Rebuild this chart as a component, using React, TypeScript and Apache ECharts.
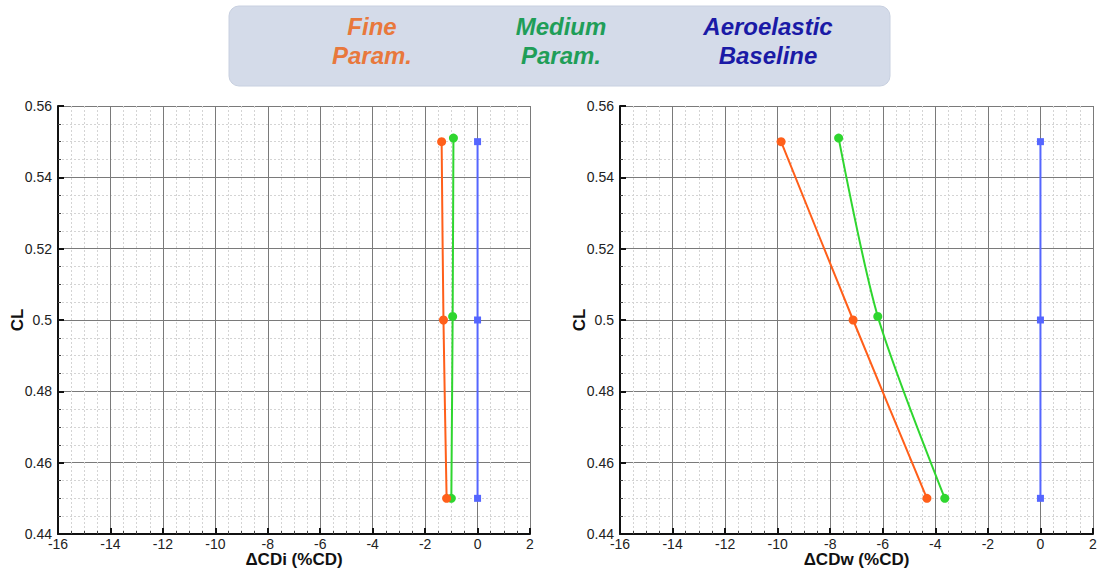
import React, { useEffect, useRef } from "react";
import * as echarts from "echarts";

// ---- data ----
const fineCL = [0.55, 0.5, 0.45];
const mediumCL = [0.551, 0.501, 0.45];
const baseCL = [0.55, 0.5, 0.45];
const fineDCDi = [-1.37, -1.3, -1.18];
const mediumDCDi = [-0.92, -0.95, -1.0];
const baseDCDi = [0, 0, 0];
const fineDCDw = [-9.87, -7.13, -4.32];
const mediumDCDw = [-7.68, -6.19, -3.64];
const baseDCDw = [0, 0, 0];
const legendLabels = ["Fine\nParam.", "Medium\nParam.", "Aeroelastic\nBaseline"];
const xTitles = ["\u0394CDi (%CD)", "\u0394CDw (%CD)"];
const yTitle = "CL";

const FONT = "'Liberation Sans', Arial, Helvetica, sans-serif";
const ORANGE = "#ff5f1a";
const GREEN = "#2fd62f";
const BLUE = "#5566ff";

const pairs = (xs: number[], ys: number[]) => xs.map((x, i) => [x, ys[i]]);

function makeX(idx: number) {
  return {
    type: "value",
    gridIndex: idx,
    min: -16,
    max: 2,
    interval: 2,
    name: xTitles[idx],
    nameLocation: "middle",
    nameGap: 17,
    nameMoveOverlap: false,
    nameTextStyle: { fontFamily: FONT, fontSize: 17, fontWeight: "bold", color: "#111" },
    axisLine: { show: true, onZero: false, lineStyle: { color: "#111", width: 2 } },
    axisTick: { show: true, inside: true, length: 6, lineStyle: { color: "#111", width: 2 } },
    minorTick: { show: true, splitNumber: 4, length: 3, lineStyle: { color: "#444", width: 1 } },
    axisLabel: { fontFamily: FONT, fontSize: 14, color: "#222", margin: 3 },
    splitLine: { show: true, lineStyle: { color: "#7a7a7a", width: 1 } },
    minorSplitLine: { show: true, lineStyle: { color: "#d4d4d4", width: 1, type: [2, 2] } },
  };
}

function makeY(idx: number) {
  return {
    type: "value",
    gridIndex: idx,
    min: 0.44,
    max: 0.56,
    interval: 0.02,
    name: yTitle,
    nameLocation: "middle",
    nameGap: 32,
    nameMoveOverlap: false,
    nameRotate: 90,
    nameTextStyle: { fontFamily: FONT, fontSize: 17, fontWeight: "bold", color: "#111" },
    axisLine: { show: true, onZero: false, lineStyle: { color: "#111", width: 2 } },
    axisTick: { show: true, inside: true, length: 6, lineStyle: { color: "#111", width: 2 } },
    minorTick: { show: true, splitNumber: 4, length: 3, lineStyle: { color: "#444", width: 1 } },
    axisLabel: {
      fontFamily: FONT,
      fontSize: 14,
      color: "#222",
      margin: 6,
      formatter: (v: number) => String(parseFloat(v.toFixed(2))),
    },
    splitLine: { show: true, lineStyle: { color: "#7a7a7a", width: 1 } },
    minorSplitLine: { show: true, lineStyle: { color: "#d4d4d4", width: 1, type: [2, 2] } },
  };
}

function lineSeries(name: string, idx: number, data: number[][], color: string, symbol: string, size: number) {
  return {
    type: "line",
    name,
    xAxisIndex: idx,
    yAxisIndex: idx,
    data,
    symbol,
    symbolSize: size,
    smooth: symbol === "circle" ? 0.25 : false,
    lineStyle: { color, width: 2 },
    itemStyle: { color },
    z: symbol === "circle" ? 3 : 2,
  };
}

export default function App() {
  const ref = useRef<HTMLDivElement>(null);
  useEffect(() => {
    if (!ref.current) return;
    const chart = echarts.init(ref.current, null, { renderer: "svg" });
    const legendColors = ["#e8783c", "#1f9e58", "#1a1aa6"];
    const legendX = [372, 561, 768];
    chart.setOption({
      animation: false,
      backgroundColor: "#ffffff",
      grid: [
        { left: 58, top: 106, width: 472, height: 428, outerBoundsMode: "none", containLabel: false },
        { left: 620, top: 106, width: 473, height: 428, outerBoundsMode: "none", containLabel: false },
      ],
      xAxis: [makeX(0), makeX(1)],
      yAxis: [makeY(0), makeY(1)],
      series: [
        lineSeries("Baseline", 0, pairs(baseDCDi, baseCL), BLUE, "rect", 7),
        lineSeries("Medium", 0, pairs(mediumDCDi, mediumCL), GREEN, "circle", 9),
        lineSeries("Fine", 0, pairs(fineDCDi, fineCL), ORANGE, "circle", 9),
        lineSeries("Baseline", 1, pairs(baseDCDw, baseCL), BLUE, "rect", 7),
        lineSeries("Medium", 1, pairs(mediumDCDw, mediumCL), GREEN, "circle", 9),
        lineSeries("Fine", 1, pairs(fineDCDw, fineCL), ORANGE, "circle", 9),
      ],
      graphic: [
        {
          type: "rect",
          shape: { x: 229, y: 6, width: 661, height: 80, r: 10 },
          style: { fill: "#d4dbe9", stroke: "#c8d0e0", lineWidth: 1 },
        },
        ...legendLabels.map((t, i) => ({
          type: "text",
          x: legendX[i],
          y: 41,
          style: {
            text: t,
            fill: legendColors[i],
            font: `italic bold 24px ${FONT}`,
            lineHeight: 29,
            align: "center",
            verticalAlign: "middle",
          },
        })),
      ],
    });
    return () => chart.dispose();
  }, []);
  return (
    <div
      ref={ref}
      style={{ position: "fixed", left: 0, top: 0, width: 1100, height: 574 }}
    />
  );
}
